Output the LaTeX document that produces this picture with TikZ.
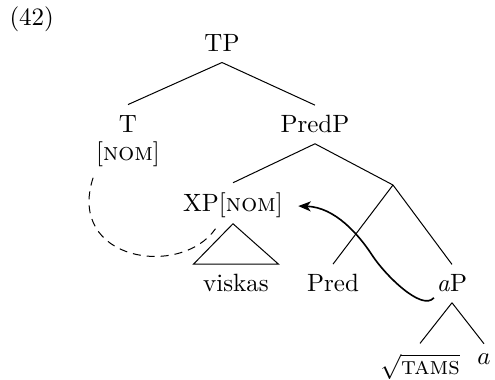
\documentclass[tikz,border=0pt]{standalone}
\usetikzlibrary{arrows.meta}
\begin{document}
\begin{tikzpicture}[x=0.4pt,y=-0.4pt,
  lab/.style={inner xsep=1pt, inner ysep=4pt, anchor=base},
  agree/.style={dash pattern=on 3.2pt off 2.4pt, line width=0.4pt},
  move/.style={line width=0.65pt, -{Stealth[length=5pt,width=4pt,inset=1.4pt]}, shorten >=5pt}]
\useasboundingbox (0,0) rectangle (495,380);

% example number
\node[anchor=base west, inner sep=0pt] (ex) at (9,25) {(42)};

% tree nodes
\node[lab] (TP)    at (222,52)  {TP};
\node[lab] (T)     at (128,132) {T};
\node[lab] (nomT)  at (128,161) {[\textsc{nom}]};
\node[lab] (PredP) at (315,133) {PredP};
\coordinate (br)   at (393,185);
\node[lab] (XP)    at (233,212) {XP[\textsc{nom}]};
\node[lab] (visk)  at (236,292) {viskas};
\node[lab] (Pred)  at (333,292) {Pred};
\node[lab] (aP)    at (452,292) {\textit{a}P};
\node[lab] (root)  at (420,375) {$\sqrt{\mbox{\textsc{tams}}}$};
\node[lab] (a)     at (484,365) {$a$};

% branches
\draw (TP.south) -- (T.north);
\draw (TP.south) -- (PredP.north);
\draw (PredP.south) -- (XP.north);
\draw (PredP.south) -- (br);
\draw (br) -- (Pred.north);
\draw (br) -- (aP.north);
\draw (aP.south) -- (root.north);
\draw (aP.south) -- (a.north);

% triangle over viskas
\draw ([yshift=2pt]XP.south) -- ([xshift=-17pt]visk.north)
      -- ([xshift=17pt]visk.north) -- cycle;

% agreement link
\draw[agree] (nomT.south west) .. controls +(-27,83) and +(-35,50) .. ([xshift=-7pt]XP.south);

% movement arrow
\draw[move] ([yshift=2pt]aP.south west) .. controls +(-12,14) and (385,275) .. (372,255)
      .. controls (359,235) and (335,207) .. (XP.east);
\end{tikzpicture}
\end{document}
